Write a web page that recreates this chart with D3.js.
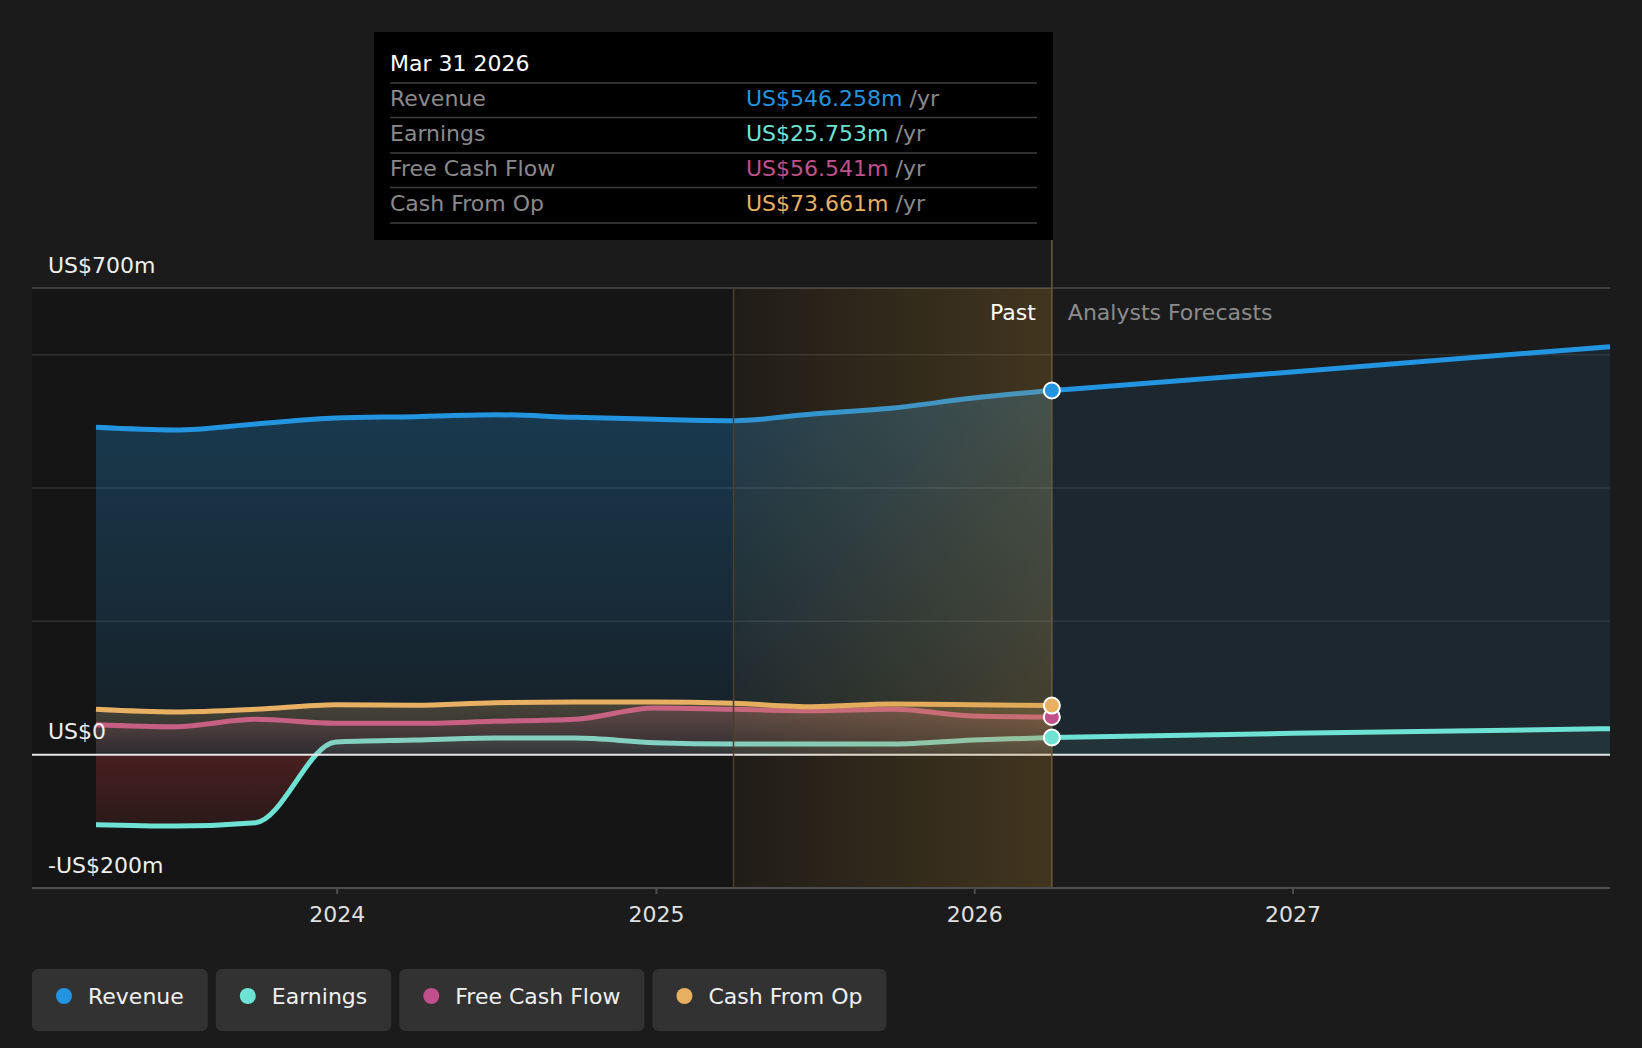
<!DOCTYPE html>
<html>
<head>
<meta charset="utf-8">
<script src="https://cdn.jsdelivr.net/npm/d3@7"></script>
<style>
  html, body { margin: 0; padding: 0; background: #1b1b1b; }
  svg { display: block; font-family: "DejaVu Sans", sans-serif; }
</style>
</head>
<body>
<div id="chart"></div>
<script>
// past quarterly values (US$m, trailing twelve months)
var pastDates = ["2023-03-31","2023-06-30","2023-09-30","2023-12-31","2024-03-31","2024-06-30","2024-09-30","2024-12-31","2025-03-31","2025-06-30","2025-09-30","2025-12-31","2026-03-31"];
var revenue  = [491, 487, 496, 505, 507, 510, 506, 503, 501, 511, 520, 535, 546.258];
var earnings = [-105, -107, -102, 19, 22, 25, 25, 18, 16, 16, 16, 22, 25.753];
var fcf      = [45, 42, 53, 47, 47, 50, 53, 70, 68, 66, 68, 58, 56.541];
var cfo      = [68, 64, 68, 75, 74, 78, 79, 79, 77, 72, 76, 75, 73.661];

// analyst forecasts
var fcDates = ["2026-03-31","2026-12-31","2027-12-31"];
var revenueFc  = [546.258, 574, 612];
var earningsFc = [25.753, 32, 39];

var yearTicks = ["2024-01-01","2025-01-01","2026-01-01","2027-01-01"];
var gridValues = [600, 400, 200];
var yLabels = [700, 0, -200];
var seriesNames = ["Revenue", "Earnings", "Free Cash Flow", "Cash From Op"];
var seriesColors = ["#2394df", "#6fe3d3", "#c0508a", "#e8b062"];
var tipValues = ["US$546.258m", "US$25.753m", "US$56.541m", "US$73.661m"];

var W = 1642, H = 1048, FS = '22px';
var parse = d3.timeParse("%Y-%m-%d");
var past = pastDates.map(parse);
var fc = fcDates.map(parse);

var svg = d3.select('#chart').append('svg').attr('width', W).attr('height', H);
var defs = svg.append('defs');

var x = d3.scaleTime()
  .domain([parse("2023-03-31"), parse("2027-12-31")])
  .range([96, 1610]);
var y = d3.scaleLinear().domain([-200, 700]).range([888, 288]);
var left = 32, right = 1610;
var pastEnd = x(parse("2026-03-31"));
var hiStart = x(parse("2025-03-31"));

// darker plot background for the past
svg.append('rect').attr('x', left).attr('y', y(700)).attr('width', pastEnd - left)
  .attr('height', y(-200) - y(700)).attr('fill', '#151515');

// gridlines
svg.selectAll('.grid').data(gridValues).enter().append('line')
  .attr('x1', left).attr('x2', right).attr('y1', d => y(d)).attr('y2', d => y(d))
  .attr('stroke', '#2f2f2f').attr('stroke-width', 1.5);
svg.append('line').attr('x1', left).attr('x2', right).attr('y1', y(700)).attr('y2', y(700))
  .attr('stroke', '#484848').attr('stroke-width', 1.5);

function vGrad(id, color, a0, a1, y0, y1) {
  var g = defs.append('linearGradient').attr('id', id)
    .attr('gradientUnits', 'userSpaceOnUse').attr('x1', 0).attr('x2', 0).attr('y1', y0).attr('y2', y1);
  g.append('stop').attr('offset', 0).attr('stop-color', color).attr('stop-opacity', a0);
  g.append('stop').attr('offset', 1).attr('stop-color', color).attr('stop-opacity', a1);
}
vGrad('gRev', seriesColors[0], 0.36, 0.08, y(700), y(0));
vGrad('gFcf', seriesColors[2], 0.22, 0.06, y(80), y(0));
vGrad('gCfo', seriesColors[3], 0.24, 0.06, y(80), y(0));

// earnings: teal above zero, red below zero
var ge = defs.append('linearGradient').attr('id', 'gEarn')
  .attr('gradientUnits', 'userSpaceOnUse').attr('x1', 0).attr('x2', 0).attr('y1', y(40)).attr('y2', y(-110));
var zOff = (y(0) - y(40)) / (y(-110) - y(40));
ge.append('stop').attr('offset', 0).attr('stop-color', seriesColors[1]).attr('stop-opacity', 0.14);
ge.append('stop').attr('offset', zOff).attr('stop-color', seriesColors[1]).attr('stop-opacity', 0.05);
ge.append('stop').attr('offset', zOff).attr('stop-color', '#d03c3c').attr('stop-opacity', 0.28);
ge.append('stop').attr('offset', 1).attr('stop-color', '#d03c3c').attr('stop-opacity', 0.11);

var curve = d3.curveMonotoneX;
function area(vals, dates) {
  return d3.area().curve(curve).x((d, i) => x(dates[i])).y0(y(0)).y1(d => y(d))(vals);
}
function line(vals, dates) {
  return d3.line().curve(curve).x((d, i) => x(dates[i])).y(d => y(d))(vals);
}

// forecast areas and lines
svg.append('path').attr('d', area(revenueFc, fc)).attr('fill', seriesColors[0]).attr('fill-opacity', 0.1);
svg.append('path').attr('d', area(earningsFc, fc)).attr('fill', seriesColors[1]).attr('fill-opacity', 0.07);
svg.append('path').attr('d', line(revenueFc, fc)).attr('fill', 'none')
  .attr('stroke', seriesColors[0]).attr('stroke-width', 5);
svg.append('path').attr('d', line(earningsFc, fc)).attr('fill', 'none')
  .attr('stroke', seriesColors[1]).attr('stroke-width', 5);

// past areas and lines
var pastSeries = [
  { vals: revenue, fill: 'url(#gRev)', color: seriesColors[0] },
  { vals: earnings, fill: 'url(#gEarn)', color: seriesColors[1] },
  { vals: fcf, fill: 'url(#gFcf)', color: seriesColors[2] },
  { vals: cfo, fill: 'url(#gCfo)', color: seriesColors[3] }
];
pastSeries.forEach(function(s) {
  svg.append('path').attr('d', area(s.vals, past)).attr('fill', s.fill);
  svg.append('path').attr('d', line(s.vals, past)).attr('fill', 'none')
    .attr('stroke', s.color).attr('stroke-width', 5);
});

// zero line
svg.append('line').attr('x1', left).attr('x2', right).attr('y1', y(0)).attr('y2', y(0))
  .attr('stroke', '#e6e6e6').attr('stroke-width', 2);

// highlighted last year of the past
var hg = defs.append('linearGradient').attr('id', 'gHi').attr('x1', 0).attr('x2', 1).attr('y1', 0).attr('y2', 0);
hg.append('stop').attr('offset', 0).attr('stop-color', '#c8963c').attr('stop-opacity', 0.06);
hg.append('stop').attr('offset', 1).attr('stop-color', '#c8963c').attr('stop-opacity', 0.25);
svg.append('rect').attr('x', hiStart).attr('y', y(700)).attr('width', pastEnd - hiStart)
  .attr('height', y(-200) - y(700)).attr('fill', 'url(#gHi)');
svg.append('line').attr('x1', hiStart).attr('x2', hiStart).attr('y1', y(700)).attr('y2', y(-200))
  .attr('stroke', '#4a3f2e').attr('stroke-width', 1.5);
svg.append('line').attr('x1', pastEnd).attr('x2', pastEnd).attr('y1', 240).attr('y2', y(-200))
  .attr('stroke', '#6b5a3a').attr('stroke-width', 1.5);

// bottom axis
svg.append('line').attr('x1', left).attr('x2', right).attr('y1', y(-200)).attr('y2', y(-200))
  .attr('stroke', '#4d4d4d').attr('stroke-width', 2);
var xAxis = svg.append('g').attr('transform', 'translate(0,' + y(-200) + ')')
  .call(d3.axisBottom(x).tickValues(yearTicks.map(parse)).tickSize(6).tickPadding(12).tickFormat(d3.timeFormat('%Y')));
xAxis.select('.domain').remove();
xAxis.selectAll('line').attr('stroke', '#4d4d4d').attr('stroke-width', 2);
xAxis.selectAll('text').attr('fill', '#e0e0e0').attr('font-size', FS)
  .attr('font-family', '"DejaVu Sans", sans-serif');

// y labels
svg.selectAll('.ylab').data(yLabels).enter().append('text')
  .attr('x', 48).attr('y', d => y(d) - 23).attr('dy', '0.35em')
  .attr('fill', '#eeeeee').attr('font-size', FS)
  .text(d => (d < 0 ? '-' : '') + 'US$' + Math.abs(d) + (d === 0 ? '' : 'm'));

// past / forecast labels
svg.append('text').attr('x', pastEnd - 16).attr('y', 312).attr('dy', '0.35em')
  .attr('text-anchor', 'end').attr('fill', '#ffffff').attr('font-size', FS).text('Past');
svg.append('text').attr('x', pastEnd + 16).attr('y', 312).attr('dy', '0.35em')
  .attr('fill', '#8c8c8c').attr('font-size', FS).text('Analysts Forecasts');

// end dots
var lastVals = [revenue[12], earnings[12], fcf[12], cfo[12]];
[0, 1, 2, 3].forEach(function(i) {
  svg.append('circle').attr('cx', pastEnd).attr('cy', y(lastVals[i])).attr('r', 8)
    .attr('fill', seriesColors[i]).attr('stroke', '#ffffff').attr('stroke-width', 2);
});

// tooltip
var tip = svg.append('g');
tip.append('rect').attr('x', 374).attr('y', 32).attr('width', 679).attr('height', 208).attr('fill', '#000');
tip.append('text').attr('x', 390).attr('y', 63).attr('dy', '0.35em').attr('fill', '#fff')
  .attr('font-size', FS).text('Mar 31 2026');
var sepY = [83, 117.5, 153, 187.5, 223];
tip.selectAll('.sep').data(sepY).enter().append('line')
  .attr('x1', 390).attr('x2', 1037).attr('y1', d => d).attr('y2', d => d)
  .attr('stroke', '#3c3c3c').attr('stroke-width', 1.5);
var rowY = [98.5, 133, 168.5, 203];
seriesNames.forEach(function(n, i) {
  tip.append('text').attr('x', 390).attr('y', rowY[i]).attr('dy', '0.35em')
    .attr('fill', '#8a8a8a').attr('font-size', FS).text(n);
  var t = tip.append('text').attr('x', 746).attr('y', rowY[i]).attr('dy', '0.35em').attr('font-size', FS);
  t.append('tspan').attr('fill', seriesColors[i]).text(tipValues[i]);
  t.append('tspan').attr('fill', '#8a8a8a').text(' /yr');
});

// legend
var lx = 32;
seriesNames.forEach(function(n, i) {
  var g = svg.append('g').attr('transform', 'translate(' + lx + ',969)');
  var box = g.append('rect').attr('height', 62).attr('rx', 6).attr('fill', '#323232');
  g.append('circle').attr('cx', 32).attr('cy', 27).attr('r', 8).attr('fill', seriesColors[i]);
  var t = g.append('text').attr('x', 56).attr('y', 27).attr('dy', '0.35em')
    .attr('fill', '#f0f0f0').attr('font-size', FS).text(n);
  var w = 56 + t.node().getComputedTextLength() + 24;
  box.attr('width', w);
  lx += w + 8;
});
</script>
</body>
</html>
